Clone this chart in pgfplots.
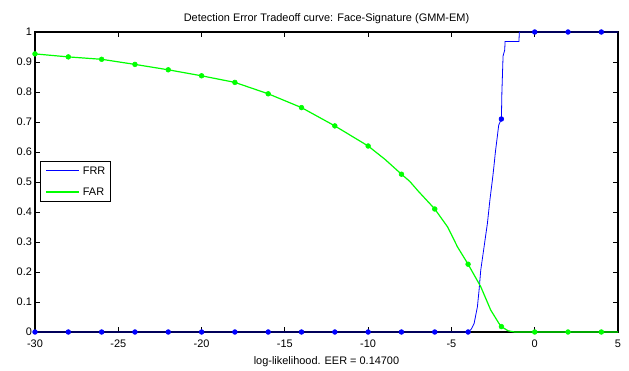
\documentclass[border=0pt]{standalone}
\usepackage{pgfplots}
\pgfplotsset{compat=1.18}
\usepackage{fontspec}
\setmainfont{Liberation Sans}
\newcommand{\chartfont}{\fontsize{8.2}{9.8}\selectfont}
\definecolor{mblue}{RGB}{0,0,255}
\definecolor{mgreen}{RGB}{0,255,0}
\begin{document}
\begin{tikzpicture}
\begin{axis}[
  scale only axis,
  width=437.25pt, height=225pt,
  xmin=-30, xmax=5, ymin=0, ymax=1,
  xtick={-30,-25,...,5},
  ytick={0,0.1,...,1},
  yticklabels={0,0.1,0.2,0.3,0.4,0.5,0.6,0.7,0.8,0.9,1},
  tick align=inside,
  xtick pos=both, ytick pos=both,
  major tick length=4pt,
  axis line style={line width=0.9pt},
  every tick/.style={black, line width=0.7pt},
  clip=false,
  /pgf/number format/assume math mode=true,
  tick label style={font=\chartfont},
  xticklabel style={yshift=-2.5pt},
  yticklabel style={xshift=1.2pt},
  title={Detection Error Tradeoff curve: Face-Signature (GMM-EM)},
  title style={font=\chartfont, at={(0.5,1)}, anchor=base, yshift=1.5pt},
  xlabel={log-likelihood. EER = 0.14700},
  xlabel style={font=\chartfont, at={(0.5,0)}, anchor=base, yshift=-24pt},
]
\addplot[mblue, line width=0.6pt] coordinates {
(-30,0) (-4,0) (-3.8,0.01) (-3.64,0.028) (-3.44,0.084) (-3.34,0.14) (-3.24,0.206)
(-3.04,0.284) (-2.84,0.362) (-2.69,0.44) (-2.54,0.507) (-2.46,0.546) (-2.36,0.60)
(-2.16,0.69) (-2,0.71) (-1.97,0.80) (-1.9,0.92) (-1.85,0.93) (-1.8,0.94) (-1.78,0.968)
(-0.95,0.968) (-0.92,1) (5,1)
};
\addplot[mgreen, line width=0.9pt] coordinates {
(-30,0.927) (-28,0.917) (-26,0.909) (-24,0.892) (-22,0.874) (-20,0.854) (-18,0.832)
(-16,0.794) (-14,0.748) (-12,0.687) (-10,0.620) (-9,0.576) (-8,0.526) (-7.5,0.502)
(-7,0.47) (-6,0.41) (-5.24,0.351) (-5,0.325) (-4.64,0.284) (-4,0.226) (-3.24,0.151)
(-2.64,0.073) (-2.14,0.028) (-2,0.018) (-1.6,0.004) (-1.2,0) (5,0)
};
\addplot[only marks, mblue, mark=*, mark size=1.8pt] coordinates {
(-30,0) (-28,0) (-26,0) (-24,0) (-22,0) (-20,0) (-18,0) (-16,0) (-14,0) (-12,0)
(-10,0) (-8,0) (-6,0) (-4,0) (-2,0.71) (0,1) (2,1) (4,1)
};
\addplot[only marks, mgreen, mark=*, mark size=1.8pt] coordinates {
(-30,0.927) (-28,0.917) (-26,0.909) (-24,0.892) (-22,0.874) (-20,0.854) (-18,0.832)
(-16,0.794) (-14,0.748) (-12,0.687) (-10,0.620) (-8,0.526) (-6,0.41) (-4,0.226)
(-2,0.018) (0,0) (2,0) (4,0)
};
\node[draw=black, line width=0.8pt, fill=white, anchor=north west,
  inner xsep=4pt, inner ysep=4.2pt, align=left, font=\chartfont]
  at (rel axis cs:0.0086,0.570)
  {\textcolor{mblue}{\rule[2.4pt]{24.75pt}{1.2pt}}\hspace{3pt}FRR\\[6pt]%
   \textcolor{mgreen}{\rule[2.4pt]{24.75pt}{1.2pt}}\hspace{3pt}FAR};
\end{axis}
\pgfresetboundingbox
\path[use as bounding box] ([shift={(-26.25pt,-29.25pt)}]current axis.south west) rectangle ([shift={(8.25pt,24pt)}]current axis.north east);
\end{tikzpicture}
\end{document}
